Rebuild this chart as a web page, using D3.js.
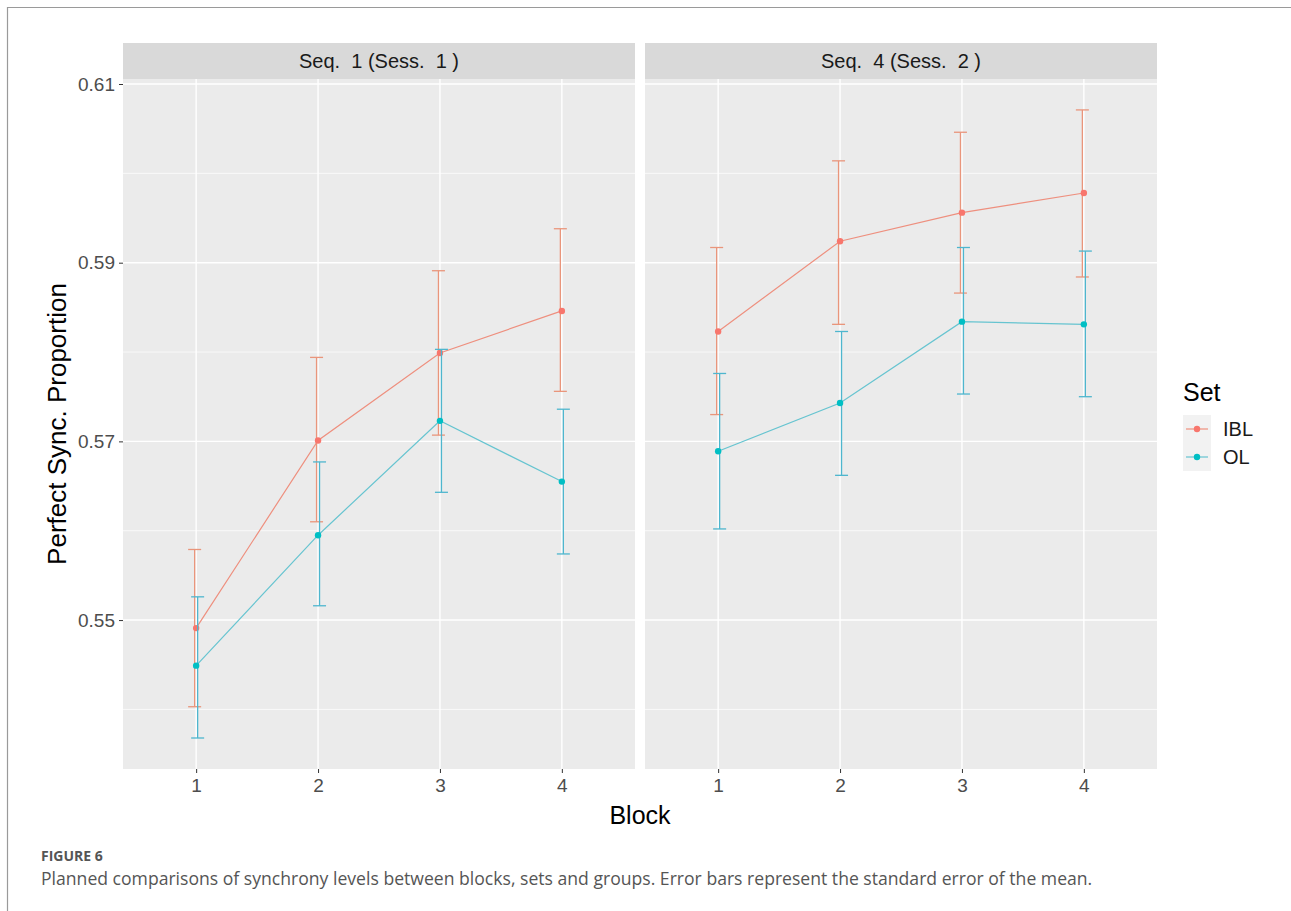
<!DOCTYPE html>
<html>
<head>
<meta charset="utf-8">
<script src="https://cdn.jsdelivr.net/npm/d3@7"></script>
<style>
  body { margin: 0; background: #fff; }
  svg { display: block; }
</style>
</head>
<body>
<script>
// data
const blocks = [1, 2, 3, 4];
const panels = ["Seq.  1 (Sess.  1 )", "Seq.  4 (Sess.  2 )"];
const sets = ["IBL", "OL"];
const yTicks = [0.55, 0.57, 0.59, 0.61];
const yMinor = [0.54, 0.56, 0.58, 0.60];

// panel 1 means / error bar ends
const ibl1 = [0.5491, 0.5701, 0.5799, 0.5846];
const ibl1Lo = [0.5403, 0.5610, 0.5707, 0.5756];
const ibl1Hi = [0.5579, 0.5794, 0.5891, 0.5938];
const ol1 = [0.5449, 0.5595, 0.5723, 0.5655];
const ol1Lo = [0.5368, 0.5516, 0.5643, 0.5574];
const ol1Hi = [0.5526, 0.5677, 0.5803, 0.5736];

// panel 2
const ibl2 = [0.5823, 0.5924, 0.5956, 0.5978];
const ibl2Lo = [0.5730, 0.5831, 0.5866, 0.5884];
const ibl2Hi = [0.5917, 0.6014, 0.6046, 0.6071];
const ol2 = [0.5689, 0.5743, 0.5834, 0.5831];
const ol2Lo = [0.5602, 0.5662, 0.5753, 0.5750];
const ol2Hi = [0.5776, 0.5823, 0.5917, 0.5913];

const caption = "Planned comparisons of synchrony levels between blocks, sets and groups. Error bars represent the standard error of the mean.";

const colors = { IBL: "#F8766D", OL: "#00BFC4" };
const barColors = { IBL: "#E9957B", OL: "#4EB6CE" };
const lineColors = { IBL: "#EE8F7E", OL: "#66C4D0" };

const W = 1291, H = 911;
const svg = d3.select("body").append("svg")
        .attr("width", W)
        .attr("height", H)
        .style("font-family", "Arial, 'Liberation Sans', sans-serif");

// frame
svg.append("line").attr("x1", 7).attr("x2", W).attr("y1", 7.5).attr("y2", 7.5)
        .attr("stroke", "#9a9a9a").attr("stroke-width", 1.2);
svg.append("line").attr("x1", 7.5).attr("x2", 7.5).attr("y1", 7).attr("y2", H)
        .attr("stroke", "#9a9a9a").attr("stroke-width", 1.2);

const panelX = [123, 645];
const panelW = 512;
const stripTop = 43, panelTop = 79, panelBottom = 769;

const y = d3.scaleLinear()
        .domain([0.53333, 0.61056])
        .range([panelBottom, panelTop]);

const x = d3.scaleLinear()
        .domain([0.4, 4.6])
        .range([0, panelW]);

const series = [
        { set: "IBL", panel: 0, m: ibl1, lo: ibl1Lo, hi: ibl1Hi },
        { set: "OL", panel: 0, m: ol1, lo: ol1Lo, hi: ol1Hi },
        { set: "IBL", panel: 1, m: ibl2, lo: ibl2Lo, hi: ibl2Hi },
        { set: "OL", panel: 1, m: ol2, lo: ol2Lo, hi: ol2Hi }
];

const dodge = { IBL: -1.5, OL: 1.5 };

panels.forEach(function (label, p) {
        const g = svg.append("g")
                .attr("transform", `translate(${panelX[p]},0)`);

        // strip
        g.append("rect")
                .attr("x", 0).attr("y", stripTop)
                .attr("width", panelW).attr("height", panelTop - stripTop)
                .attr("fill", "#D9D9D9");
        g.append("text")
                .text(label)
                .attr("x", panelW / 2)
                .attr("y", (stripTop + panelTop) / 2 + 7)
                .attr("text-anchor", "middle")
                .attr("font-size", 20)
                .attr("fill", "#1A1A1A")
                .style("white-space", "pre");

        // panel background
        g.append("rect")
                .attr("x", 0).attr("y", panelTop)
                .attr("width", panelW).attr("height", panelBottom - panelTop)
                .attr("fill", "#EBEBEB");

        // minor grid
        g.selectAll(".minor")
                .data(yMinor)
                .enter()
                .append("line")
                .attr("x1", 0).attr("x2", panelW)
                .attr("y1", d => y(d)).attr("y2", d => y(d))
                .attr("stroke", "#fff").attr("stroke-width", 0.7);

        // major grid
        g.selectAll(".major")
                .data(yTicks)
                .enter()
                .append("line")
                .attr("x1", 0).attr("x2", panelW)
                .attr("y1", d => y(d)).attr("y2", d => y(d))
                .attr("stroke", "#fff").attr("stroke-width", 1.4);

        g.selectAll(".vgrid")
                .data(blocks)
                .enter()
                .append("line")
                .attr("x1", d => x(d)).attr("x2", d => x(d))
                .attr("y1", panelTop).attr("y2", panelBottom)
                .attr("stroke", "#fff").attr("stroke-width", 1.4);

        // x axis
        const xAxis = d3.axisBottom(x)
                .tickValues(blocks)
                .tickFormat(d3.format("d"))
                .tickSize(4)
                .tickPadding(6);
        const xg = g.append("g")
                .attr("transform", `translate(0,${panelBottom})`)
                .call(xAxis);
        xg.select(".domain").remove();
        xg.selectAll(".tick line").attr("stroke", "#333").attr("stroke-width", 1);
        xg.selectAll(".tick text")
                .attr("font-size", 19)
                .attr("fill", "#4D4D4D")
                .attr("font-family", "Arial, 'Liberation Sans', sans-serif");

        // series
        series.filter(s => s.panel === p).forEach(function (s) {
                const pts = blocks.map((b, i) => ({ b: b, m: s.m[i], lo: s.lo[i], hi: s.hi[i] }));

                const line = d3.line()
                        .x(d => x(d.b))
                        .y(d => y(d.m));
                g.append("path")
                        .datum(pts)
                        .attr("d", line)
                        .attr("fill", "none")
                        .attr("stroke", lineColors[s.set])
                        .attr("stroke-width", 1.2);

                const eb = g.append("g");
                eb.selectAll(".v")
                        .data(pts)
                        .enter()
                        .append("line")
                        .attr("x1", d => x(d.b) + dodge[s.set])
                        .attr("x2", d => x(d.b) + dodge[s.set])
                        .attr("y1", d => y(d.lo))
                        .attr("y2", d => y(d.hi))
                        .attr("stroke", barColors[s.set])
                        .attr("stroke-width", 1.3);
                ["lo", "hi"].forEach(function (k) {
                        eb.selectAll(".c" + k)
                                .data(pts)
                                .enter()
                                .append("line")
                                .attr("x1", d => x(d.b) + dodge[s.set] - 6.5)
                                .attr("x2", d => x(d.b) + dodge[s.set] + 6.5)
                                .attr("y1", d => y(d[k]))
                                .attr("y2", d => y(d[k]))
                                .attr("stroke", barColors[s.set])
                                .attr("stroke-width", 1.3);
                });

                g.selectAll(".pt" + s.set)
                        .data(pts)
                        .enter()
                        .append("circle")
                        .attr("cx", d => x(d.b))
                        .attr("cy", d => y(d.m))
                        .attr("r", 3.2)
                        .attr("fill", colors[s.set]);
        });
});

// y axis (left panel only)
const yAxis = d3.axisLeft(y)
        .tickValues(yTicks)
        .tickFormat(d3.format(".2f"))
        .tickSize(4)
        .tickPadding(4);
const yg = svg.append("g")
        .attr("transform", `translate(${panelX[0]},0)`)
        .call(yAxis);
yg.select(".domain").remove();
yg.selectAll(".tick line").attr("stroke", "#333");
yg.selectAll(".tick text")
        .attr("font-size", 19)
        .attr("fill", "#4D4D4D")
        .attr("font-family", "Arial, 'Liberation Sans', sans-serif");

// axis titles
svg.append("text")
        .text("Perfect Sync. Proportion")
        .attr("transform", `translate(66,${(panelTop + panelBottom) / 2}) rotate(-90)`)
        .attr("text-anchor", "middle")
        .attr("font-size", 26)
        .attr("fill", "#000");

svg.append("text")
        .text("Block")
        .attr("x", (panelX[0] + panelX[1] + panelW) / 2)
        .attr("y", 824)
        .attr("text-anchor", "middle")
        .attr("font-size", 25)
        .attr("fill", "#000");

// legend
const lg = svg.append("g").attr("transform", "translate(1183,0)");
lg.append("text")
        .text("Set")
        .attr("x", 0).attr("y", 401)
        .attr("font-size", 25)
        .attr("fill", "#000");
sets.forEach(function (s, i) {
        const cy = 429 + i * 28;
        lg.append("rect")
                .attr("x", 0).attr("y", cy - 14)
                .attr("width", 28).attr("height", 28)
                .attr("fill", "#F2F2F2");
        lg.append("line")
                .attr("x1", 3).attr("x2", 25)
                .attr("y1", cy).attr("y2", cy)
                .attr("stroke", lineColors[s]).attr("stroke-width", 1.2);
        lg.append("circle")
                .attr("cx", 14).attr("cy", cy).attr("r", 3.2)
                .attr("fill", colors[s]);
        lg.append("text")
                .text(s)
                .attr("x", 40).attr("y", cy + 7)
                .attr("font-size", 20)
                .attr("fill", "#1A1A1A");
});

// caption
svg.append("text")
        .text("FIGURE 6")
        .attr("x", 41).attr("y", 861)
        .attr("font-family", "'Open Sans', sans-serif")
        .attr("font-weight", 700)
        .attr("font-size", 14)
        .attr("fill", "#555");
svg.append("text")
        .text(caption)
        .attr("x", 41).attr("y", 885)
        .attr("font-family", "'Open Sans', sans-serif")
        .attr("font-size", 17.6)
        .attr("fill", "#555");
</script>
</body>
</html>
